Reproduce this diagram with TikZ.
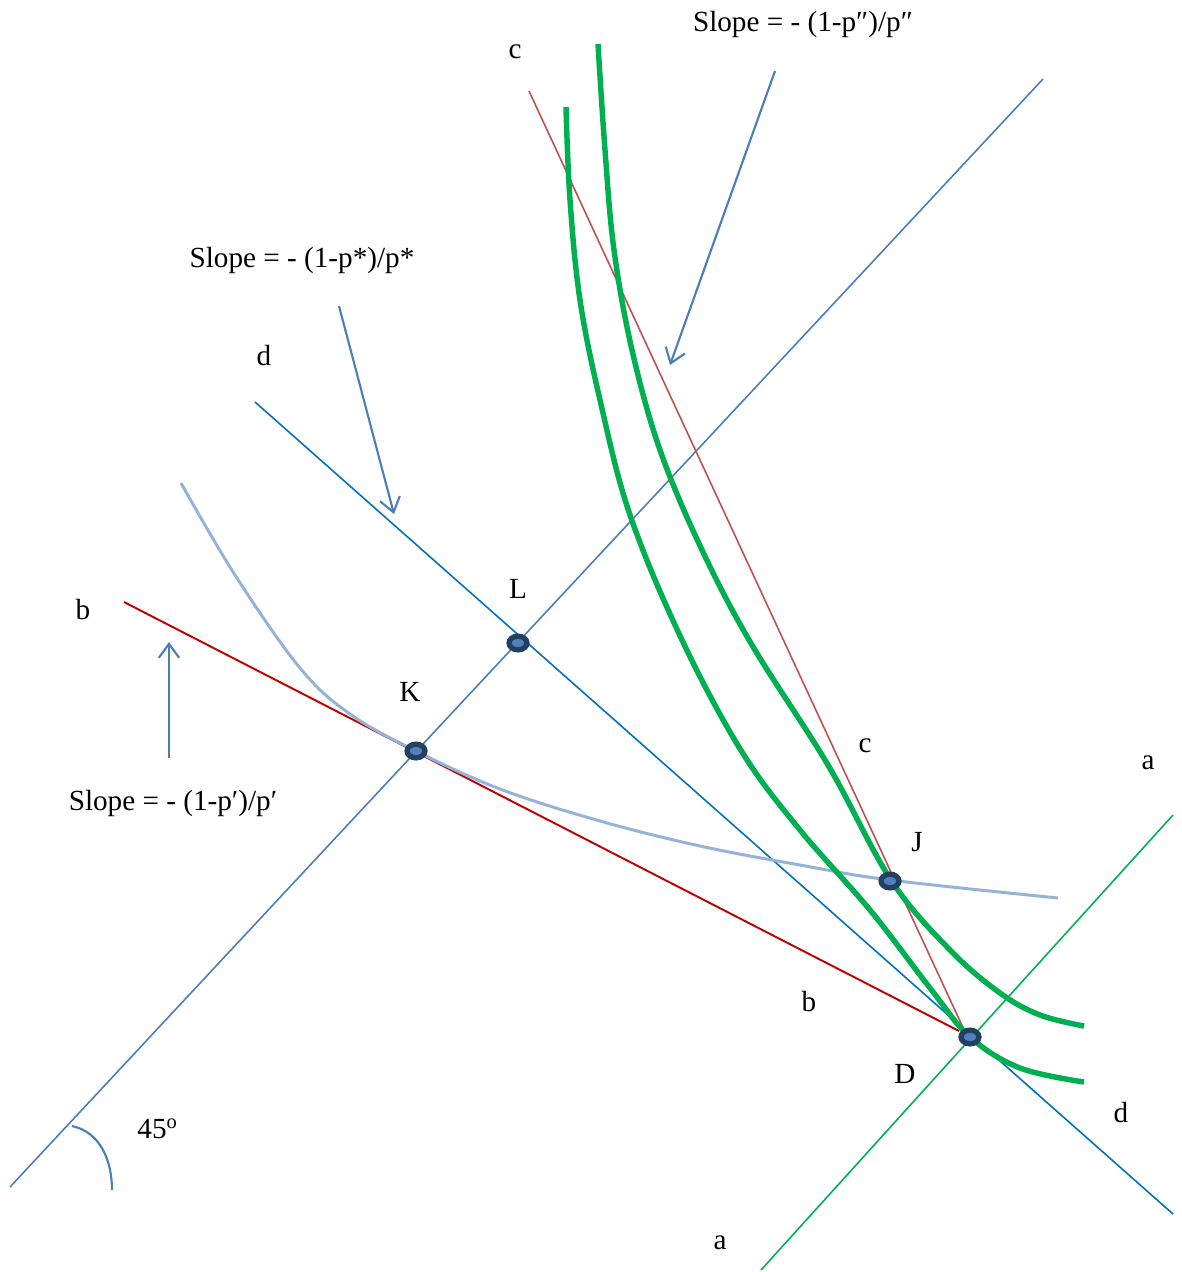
\documentclass[tikz,border=0pt]{standalone}
\usepackage{fontspec}
\setmainfont{Liberation Serif}
\usepackage{tikz}
\usetikzlibrary{arrows.meta,shapes}

\definecolor{diagblue}{RGB}{74,126,187}
\definecolor{budblue}{RGB}{0,112,192}
\definecolor{budred}{RGB}{192,0,0}
\definecolor{budbrick}{RGB}{192,80,77}
\definecolor{offgreen}{RGB}{0,176,80}
\definecolor{icblue}{RGB}{149,179,215}
\definecolor{dotrim}{RGB}{36,63,96}
\definecolor{dotfill}{RGB}{79,129,189}

\begin{document}
\begin{tikzpicture}
          [x=0.01cm,y=-0.01cm,font=\fontsize{8.3}{10}\selectfont]
          \tikzstyle{point}=[ellipse,draw=dotrim,fill=dotfill,line width=1.5pt,minimum width=5.1pt,minimum height=3.9pt,inner sep=0pt]
          \tikzstyle{thinline}=[line width=0.45pt]
          \tikzstyle{curve}=[draw=offgreen,line width=1.55pt]
          \tikzstyle{slopearrow}=[draw=diagblue,line width=0.6pt,-{Straight Barb[length=4pt,width=5.8pt]}]

          \useasboundingbox (0,0) rectangle (1182,1272);

          % end points of the lines
          \coordinate (o1) at (10,1187);
          \coordinate (o2) at (1043,79);
          \coordinate (d1) at (255,402);
          \coordinate (d2) at (1173,1214);
          \coordinate (b1) at (124,602);
          \coordinate (b2) at (959,1031);
          \coordinate (c1) at (529,91);
          \coordinate (c2) at (966,1034);
          \coordinate (a1) at (761,1270);
          \coordinate (a2) at (1173,815);

          \draw[thinline,diagblue] (o1) -- (o2);
          \draw[thinline,budblue] (d1) -- (d2);
          \draw[thinline,budred,line width=0.55pt] (b1) -- (b2);
          \draw[thinline,budbrick] (c1) -- (c2);
          \draw[thinline,offgreen] (a1) -- (a2);

          % indifference curves
          \draw[icblue,line width=0.85pt] plot[smooth,tension=0.6] coordinates
            {(181,483) (235,575) (300,668) (350,714) (416,751) (500,789) (600,821) (700,846) (800,865) (890,880) (1058,898)};
          \draw[curve] plot[smooth,tension=0.6] coordinates
            {(566,107) (570,200) (580,300) (600,400) (630,515) (682,640) (742,752) (800,830) (870,910) (930,988) (970,1037) (1020,1068) (1084,1082)};
          \draw[curve] plot[smooth,tension=0.6] coordinates
            {(598,44) (605,150) (614,250) (632,350) (660,450) (702,550) (752,645) (828,765) (891,880) (950,950) (1000,993) (1040,1015) (1084,1026)};

          % angle mark
          \coordinate (ang1) at (72,1126);
          \coordinate (ang2) at (112,1190);
          \draw[diagblue,line width=0.6pt] (ang1) .. controls (100,1132) and (112,1160) .. (ang2);

          % slope arrows
          \coordinate (s1a) at (775,71);
          \coordinate (s1b) at (670,365);
          \coordinate (s2a) at (339,306);
          \coordinate (s2b) at (394,514);
          \coordinate (s3a) at (169,758);
          \coordinate (s3b) at (169,642);
          \draw[slopearrow] (s1a) -- (s1b);
          \draw[slopearrow] (s2a) -- (s2b);
          \draw[slopearrow] (s3a) -- (s3b);

          \node[point] (K) at (416,751) {};
          \node[point] (L) at (518,643) {};
          \node[point] (J) at (890,881) {};
          \node[point] (D) at (970,1037) {};

          \node (tK) at (410,692) {K};
          \node (tL) at (518,589) {L};
          \node (tJ) at (917,842) {J};
          \node (tD) at (905,1074) {D};
          \node (tc1) at (515,52) {c};
          \node (tc2) at (865,746) {c};
          \node (td1) at (264,356) {d};
          \node (td2) at (1121,1112) {d};
          \node (tb1) at (83,610) {b};
          \node (tb2) at (809,1002) {b};
          \node (ta1) at (1148,763) {a};
          \node (ta2) at (720,1243) {a};
          \node (tang) at (158,1129) {45\textsuperscript{o}};
          \node (slope1) at (803,24) {Slope = - (1-p″)/p″};
          \node (slope2) at (302,260) {Slope = - (1-p*)/p*};
          \node (slope3) at (173,803) {Slope = - (1-p′)/p′};
\end{tikzpicture}
\end{document}
